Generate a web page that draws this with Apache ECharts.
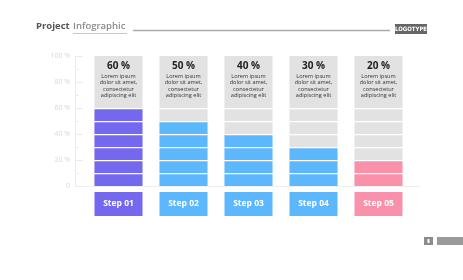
<!DOCTYPE html>
<html>
<head>
<meta charset="utf-8">
</head>
<body style="margin: 0; background: #fff">
<div id="container" style="width: 463px; height: 280px"></div>
<script src="https://cdn.jsdelivr.net/npm/echarts@6/dist/echarts.min.js"></script>
<script>
var steps = ['Step 01', 'Step 02', 'Step 03', 'Step 04', 'Step 05'];
var values = [60, 50, 40, 30, 20];
var segmentTops = [10, 20, 30, 40, 50, 60];
var headerRange = [60, 100];
var noteLines = ['Lorem ipsum', 'dolor sit amet,', 'consectetur', 'adipiscing elit'];

var colors = ['#7468ef', '#5db7fc', '#5db7fc', '#5db7fc', '#f891a9'];
var gray = '#e2e2e2';

var chart = echarts.init(document.getElementById('container'));

function renderItem(params, api) {
    var i = api.value(0);
    var v = api.value(1);
    var bw = api.size([1, 0])[0] * 0.74;
    var x = api.coord([i, 0])[0] - bw / 2;
    var cx = x + bw / 2;
    var top = api.coord([i, headerRange[1]])[1];
    var hb = api.coord([i, headerRange[0]])[1];
    var children = [{
        type: 'rect',
        shape: { x: x, y: top, width: bw, height: hb - top },
        style: { fill: gray }
    }];
    var prev = 0;
    segmentTops.forEach(function (s) {
        var y0 = api.coord([i, prev])[1];
        var y1 = api.coord([i, s])[1];
        children.push({
            type: 'rect',
            shape: { x: x, y: y1 + 1.3, width: bw, height: y0 - y1 - 1.3 },
            style: { fill: s <= v ? colors[i] : gray }
        });
        prev = s;
    });
    children.push({
        type: 'text',
        style: {
            text: v + ' %', x: cx, y: top + 10.5,
            align: 'center', verticalAlign: 'middle',
            fill: '#222', font: 'bold 10px "Open Sans"'
        }
    });
    children.push({
        type: 'text',
        style: {
            text: noteLines.join('\n'), x: cx, y: top + 17,
            align: 'center', verticalAlign: 'top', lineHeight: 6.5,
            fill: '#333', font: '5.6px "Open Sans"'
        }
    });
    return { type: 'group', children: children };
}

var rich = {};
colors.forEach(function (c, i) {
    rich['s' + i] = {
        backgroundColor: c, color: '#fff', width: 48, height: 24, lineHeight: 24,
        align: 'center', fontSize: 8.5, fontWeight: 'bold', fontFamily: 'Open Sans'
    };
});

var option = {
    animation: false,
    grid: { left: 86, right: 52, top: 56, bottom: 94 },
    xAxis: {
        type: 'category',
        data: steps,
        axisLine: { show: false },
        axisTick: { show: false },
        axisLabel: {
            interval: 0,
            margin: 6,
            formatter: function (val, idx) { return '{s' + idx + '|' + val + '}'; },
            rich: rich
        }
    },
    yAxis: {
        type: 'value',
        min: 0, max: 100, interval: 20,
        offset: 11,
        axisLine: { show: true, lineStyle: { color: '#ececec' } },
        axisTick: { show: true, inside: true, length: 8, lineStyle: { color: '#ececec' } },
        minorTick: { show: true, splitNumber: 2, length: 4, lineStyle: { color: '#ececec' } },
        splitLine: { show: false },
        axisLabel: {
            margin: 5, color: '#d8d8d8', fontSize: 7, fontFamily: 'Open Sans',
            formatter: function (v) { return v === 0 ? '0' : v + ' %'; }
        }
    },
    series: [{
        type: 'custom',
        renderItem: renderItem,
        data: values.map(function (v, i) { return [i, v]; })
    }],
    graphic: [
        {
            type: 'text', left: 36, top: 20,
            style: {
                text: '{a|Project} {b|Infographic}',
                rich: {
                    a: { fill: '#555', fontSize: 9.5, fontWeight: 'bold', fontFamily: 'Open Sans' },
                    b: { fill: '#8a8a8a', fontSize: 9.5, fontWeight: 600, fontFamily: 'Open Sans' }
                }
            }
        },
        { type: 'line', shape: { x1: 73, y1: 33.5, x2: 127, y2: 33.5 }, style: { stroke: '#c8c8c8', lineWidth: 1 } },
        { type: 'line', shape: { x1: 133, y1: 30.5, x2: 390, y2: 30.5 }, style: { stroke: '#aaa', lineWidth: 1.5 } },
        { type: 'rect', shape: { x: 395, y: 24, width: 32, height: 10 }, style: { fill: '#666' } },
        {
            type: 'text', x: 411, y: 29.2,
            style: {
                text: 'LOGOTYPE', fill: '#fff', align: 'center', verticalAlign: 'middle',
                font: 'bold 6px "Liberation Sans Narrow", "DejaVu Sans Condensed"'
            }
        },
        { type: 'line', shape: { x1: 76, y1: 186.5, x2: 420, y2: 186.5 }, style: { stroke: '#efefef', lineWidth: 1 } },
        { type: 'rect', shape: { x: 424, y: 237, width: 9, height: 8 }, style: { fill: '#8c8c8c' } },
        { type: 'rect', shape: { x: 427.5, y: 239, width: 2, height: 4 }, style: { fill: '#fff' } },
        { type: 'rect', shape: { x: 437, y: 237, width: 26, height: 8 }, style: { fill: '#9a9a9a' } }
    ]
};

chart.setOption(option);
</script>
</body>
</html>
